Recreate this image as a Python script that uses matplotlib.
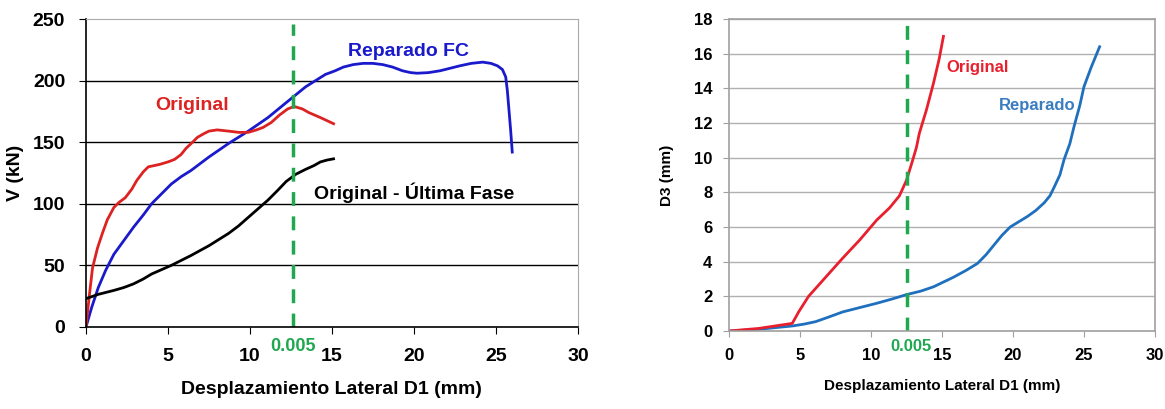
import matplotlib
matplotlib.use("Agg")
import matplotlib.pyplot as plt
import matplotlib.transforms as mtransforms

plt.rcParams['font.family'] = ['Liberation Sans', 'DejaVu Sans']
plt.rcParams['font.weight'] = 'bold'
plt.rcParams['axes.labelweight'] = 'bold'

# panel izquierdo: V (kN) vs D1 (mm)
orig_x = [0, 0.2, 0.4, 0.7, 1.0, 1.3, 1.7, 2.0, 2.4, 2.8, 3.1, 3.5, 3.8, 4.5, 5.0, 5.4, 5.8, 6.1,
          6.5, 6.8, 7.2, 7.5, 8.0, 8.7, 9.3, 9.9, 10.4, 10.8, 11.3, 11.8, 12.3, 12.7, 13.2, 13.6, 14.3, 15.1]
orig_v = [0, 25, 48, 64, 76, 87, 97, 101, 105, 112, 119, 126, 130, 132, 134, 136, 140, 145,
          150, 154, 157, 159, 160, 159, 158, 158, 160, 162, 166, 172, 177, 179, 177, 174, 170, 165]

rep_x = [0, 0.35, 0.75, 1.2, 1.7, 2.3, 2.9, 3.5, 4.0, 4.6, 5.2, 5.8, 6.4, 7.5, 8.7, 9.9, 11.1, 12.2,
         13.4, 14.0, 14.6, 15.2, 15.7, 16.3, 16.9, 17.5, 18.1, 18.7, 19.3, 19.8, 20.2, 20.9, 21.6,
         22.2, 22.8, 23.5, 24.2, 24.7, 25.1, 25.4, 25.6, 25.7, 25.8, 25.9, 26.0]
rep_v = [0, 16, 32, 46, 59, 70, 81, 91, 100, 108, 116, 122, 127, 138, 149, 159, 170, 182,
         195, 200, 205, 208, 211, 213, 214, 214, 213, 211, 208, 206.5, 206, 206.5, 208,
         210, 212, 214, 215, 214, 212, 209, 203, 192, 176, 160, 142]

ult_x = [0, 0.75, 1.7, 2.3, 2.9, 3.5, 4.0, 4.6, 5.2, 5.8, 6.4, 7.5, 8.7, 9.3, 9.9, 10.5, 11.1, 11.7,
         12.2, 12.8, 13.4, 13.9, 14.3, 14.7, 15.1]
ult_v = [23, 26.5, 29.7, 32, 35, 39, 43, 46.5, 50, 54, 58, 66, 76, 82, 89, 96, 103, 111,
         118, 124, 128, 131, 134, 135.5, 136.5]

# panel derecho: D3 (mm) vs D1 (mm)
d3o_x = [0, 2.1, 4.45, 4.7, 4.9, 5.6, 6.8, 8.0, 9.2, 10.4, 11.3, 12.0, 12.5, 12.95, 13.2, 13.4,
         13.9, 14.4, 14.8, 15.1]
d3o_y = [0, 0.15, 0.44, 0.8, 1.1, 2.0, 3.1, 4.2, 5.25, 6.4, 7.1, 7.8, 8.7, 9.9, 10.6, 11.4,
         12.75, 14.3, 15.7, 17.0]

d3r_x = [0, 2.1, 4.45, 5.3, 6.1, 7.0, 8.0, 9.2, 10.4, 11.5, 12.5, 13.5, 14.4, 15.8, 16.7, 17.5,
         18.1, 18.6, 19.2, 19.8, 20.4, 21.0, 21.6, 22.2, 22.6, 22.9, 23.3, 23.6, 24.0, 24.3,
         24.7, 25.0, 25.5, 26.1]
d3r_y = [0, 0.1, 0.29, 0.4, 0.54, 0.8, 1.1, 1.35, 1.6, 1.85, 2.1, 2.3, 2.55, 3.1, 3.5, 3.9,
         4.4, 4.9, 5.5, 6.0, 6.3, 6.6, 6.95, 7.4, 7.8, 8.3, 9.0, 9.9, 10.8, 11.8,
         13.0, 14.1, 15.2, 16.4]

drift_left = 12.6
drift_right = 12.5

green = '#1fa84f'

fig = plt.figure(figsize=(11.65, 4.09), dpi=100)
ax1 = fig.add_axes([0.0738, 0.2005, 0.4222, 0.753])
ax2 = fig.add_axes([0.6258, 0.1907, 0.3656, 0.7628])

# ---- izquierda
ax1.plot(rep_x, rep_v, color='#1a1acc', lw=2)
ax1.plot(orig_x, orig_v, color='#dd2222', lw=2)
ax1.plot(ult_x, ult_v, color='black', lw=2)
ax1.plot([drift_left, drift_left], [0, 246], color=green, lw=2.5, ls=(0, (4, 3)))
ax1.set_xlim(0, 30)
ax1.set_ylim(0, 250)
ax1.set_xticks(range(0, 31, 5))
ax1.set_yticks(range(0, 251, 50))
for yv in [50, 100, 150, 200]:
    ax1.axhline(yv, color='black', lw=1, zorder=0)
for s in ['top', 'right']:
    ax1.spines[s].set_color('#aaaaaa')
for s in ['left', 'bottom']:
    ax1.spines[s].set_color('black')
    ax1.spines[s].set_linewidth(1.2)
ax1.tick_params(direction='out', length=5, labelsize=14, pad=10)
ax1.set_xlabel('Desplazamiento Lateral D1 (mm)', fontsize=14, labelpad=12)
ax1.set_ylabel('V (kN)', fontsize=14, labelpad=6)
ax1.text(19.7, 224, 'Reparado FC', color='#1a1acc', fontsize=14, ha='center', va='center')
ax1.text(6.5, 180, 'Original', color='#dd2222', fontsize=14, ha='center', va='center')
ax1.text(20.0, 109, 'Original - Última Fase', color='black', fontsize=14, ha='center', va='center')
tr1 = mtransforms.blended_transform_factory(ax1.transData, ax1.transAxes)
ax1.text(drift_left, -0.035, '0.005', color=green, fontsize=13, ha='center', va='top', transform=tr1)

# ---- derecha
ax2.plot(d3r_x, d3r_y, color='#1f6fbf', lw=2)
ax2.plot(d3o_x, d3o_y, color='#e8202e', lw=2)
ax2.plot([drift_right, drift_right], [0, 17.7], color=green, lw=2.5, ls=(0, (4, 3)))
ax2.set_xlim(0, 30)
ax2.set_ylim(0, 18)
ax2.set_xticks(range(0, 31, 5))
ax2.set_yticks(range(0, 19, 2))
ax2.grid(axis='y', color='#b0b0b0', lw=1)
ax2.set_axisbelow(True)
for s in ax2.spines.values():
    s.set_color('#a0a0a0')
    s.set_linewidth(1.2)
ax2.tick_params(direction='out', length=4, color='#a0a0a0', labelsize=12, pad=8)
ax2.set_xlabel('Desplazamiento Lateral D1 (mm)', fontsize=11, labelpad=12)
ax2.set_ylabel('D3 (mm)', fontsize=11, labelpad=14)
ax2.text(17.5, 15.2, 'Original', color='#e8202e', fontsize=12, ha='center', va='center')
ax2.text(21.7, 13.0, 'Reparado', color='#3a7cc0', fontsize=12, ha='center', va='center')
tr2 = mtransforms.blended_transform_factory(ax2.transData, ax2.transAxes)
ax2.text(drift_right + 0.3, -0.025, '0.005', color=green, fontsize=12, ha='center', va='top', transform=tr2)

fig.savefig('out.png', dpi=100)
